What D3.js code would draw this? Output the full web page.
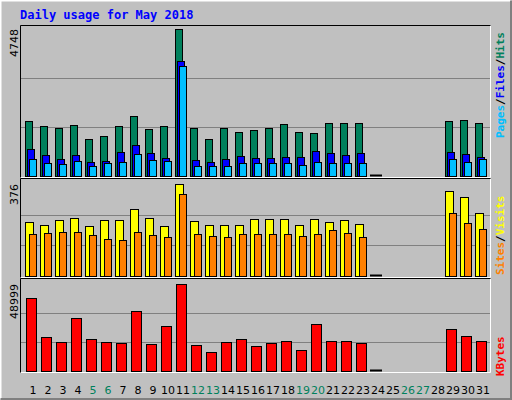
<!DOCTYPE html>
<html><head><meta charset="utf-8">
<script src="https://cdn.jsdelivr.net/npm/d3@7"></script>
<style>body{margin:0;background:#fff}</style>
</head><body><div id="chart"></div>
<script>
const days = d3.range(1, 32);
const weekends = [5, 6, 12, 13, 19, 20, 26, 27];
const hits  = [1776,1615,1550,1647,1195,1292,1615,1938,1518,1615,4748,1550,1195,1550,1421,1486,1550,1680,1421,1389,1712,1712,1712,0,null,null,null,null,1776,1809,1712];
const files = [872,678,549,678,452,484,775,1001,743,581,3714,517,452,549,646,581,581,614,614,807,743,678,743,0,null,null,null,null,775,710,614];
const pages = [549,420,388,484,323,420,452,710,517,484,3553,323,323,323,420,420,420,420,355,452,420,420,420,0,null,null,null,null,549,452,549];
const visits = [221,208,229,237,204,229,229,274,237,204,376,225,208,208,208,233,233,233,208,233,221,229,213,0,null,null,null,null,347,323,257];
const sites  = [172,176,180,180,168,151,147,180,168,159,335,172,163,159,172,172,172,172,163,172,188,176,159,0,null,null,null,null,257,217,192];
const kbytes = [41100,19142,16327,29839,18016,16327,15764,33780,15201,25335,48999,14638,10697,16327,18016,14075,15764,16890,11823,26461,16890,16890,15764,0,null,null,null,null,23646,19705,16890];
const maxLabels = ['4748', '376', '48999'];

const W = 512, H = 400;
const svg = d3.select('#chart').append('svg').attr('width', W).attr('height', H)
  .style('font-family', 'DejaVu Sans Mono, monospace');

// frame
svg.append('rect').attr('width', W).attr('height', H).attr('fill', '#c0c0c0');
svg.append('path').attr('d', 'M0.5,399.5V0.5H511.5').attr('stroke', '#fff').attr('stroke-width', 2).attr('fill', 'none');
svg.append('path').attr('d', 'M0.5,399.5H511.5V0.5').attr('stroke', '#808080').attr('stroke-width', 3).attr('fill', 'none');

svg.append('text').attr('x', 20).attr('y', 19).text('Daily usage for May 2018')
  .attr('fill', '#0000ff').attr('font-weight', 'bold').attr('font-size', 12);

const x = d3.scaleBand().domain(days).range([22, 487]).paddingInner(0);

const panels = [
  {top: 25, bottom: 177, y0: 176, y1: 29, max: 4748},
  {top: 178, bottom: 277, y0: 276, y1: 184, max: 376},
  {top: 278, bottom: 372, y0: 371, y1: 284, max: 48999}
];

panels.forEach(function (p, i) {
  p.y = d3.scaleLinear().domain([0, p.max]).range([p.y0, p.y1]);
  svg.append('path').attr('d', 'M20.5,' + (p.bottom + 0.5) + 'H490.5V' + (p.top + 0.5))
    .attr('stroke', '#fff').attr('fill', 'none');
  svg.append('path').attr('d', 'M20.5,' + (p.bottom + 0.5) + 'V' + (p.top + 0.5) + 'H490.5')
    .attr('stroke', '#000').attr('fill', 'none');
  [1 / 3, 2 / 3].forEach(function (f) {
    const gy = Math.round(p.y(p.max * f)) + 0.5;
    svg.append('line').attr('x1', 21).attr('x2', 490).attr('y1', gy).attr('y2', gy)
      .attr('stroke', '#808080');
  });
  svg.append('text').attr('transform', 'translate(18,' + (p.y1) + ') rotate(-90)')
    .attr('text-anchor', 'end').attr('font-size', 11).attr('font-family', 'DejaVu Sans, sans-serif')
    .text(maxLabels[i]);
});

function bars (p, data, color, dx, w) {
  svg.append('g').selectAll('rect')
    .data(days.map(function (d, i) { return {d: d, v: data[i]}; }).filter(function (e) { return e.v != null; }))
    .join('rect')
    .attr('x', function (e) { return x(e.d) + dx + 0.5; })
    .attr('y', function (e) { return Math.round(p.y(e.v)) + 0.5; })
    .attr('width', w)
    .attr('height', function (e) { return Math.max(0, Math.round(p.y0 - p.y(e.v))); })
    .attr('fill', color).attr('stroke', '#000');
}
bars(panels[0], hits, '#00805c', 3, 7);
bars(panels[0], files, '#0000ff', 5, 7);
bars(panels[0], pages, '#00bfff', 7, 7);
bars(panels[1], visits, '#ffff00', 3, 8);
bars(panels[1], sites, '#ff8000', 7, 7);
bars(panels[2], kbytes, '#ff0000', 4, 10);

// zero-day markers
[panels[0], panels[1], panels[2]].forEach(function (p) {
  days.filter(function (d, i) { return hits[i] === 0; }).forEach(function (d) {
    svg.append('line').attr('x1', x(d) + 3).attr('x2', x(d) + 15)
      .attr('y1', p.y0 - 0.5).attr('y2', p.y0 - 0.5).attr('stroke', '#000').attr('stroke-width', 2);
  });
});

svg.append('g').selectAll('text').data(days).join('text')
  .attr('x', function (d) { return x(d) + 11; }).attr('y', 394)
  .attr('text-anchor', 'middle').attr('font-size', 11).attr('font-family', 'DejaVu Sans, sans-serif')
  .attr('fill', function (d) { return weekends.includes(d) ? '#00805c' : '#000'; })
  .text(function (d) { return d; });

function sideLabel (yEnd, parts) {
  const t = svg.append('text').attr('transform', 'translate(504,' + yEnd + ') rotate(-90)')
    .attr('font-size', 11).attr('font-weight', 'bold');
  parts.forEach(function (pt) { t.append('tspan').attr('fill', pt[1]).text(pt[0]); });
}
sideLabel(138, [['Pages', '#00bfff'], ['/', '#000'], ['Files', '#0000ff'], ['/', '#000'], ['Hits', '#00805c']]);
sideLabel(275, [['Sites', '#ff8000'], ['/', '#000'], ['Visits', '#ffff00']]);
sideLabel(376, [['KBytes', '#ff0000']]);
</script></body></html>
